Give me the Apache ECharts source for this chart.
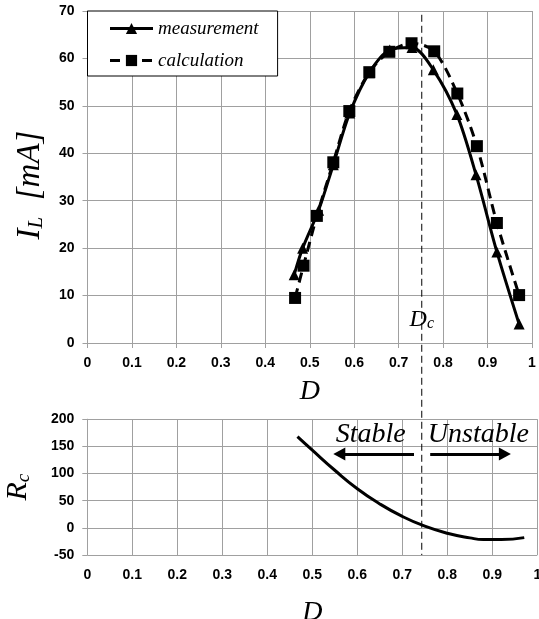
<!DOCTYPE html>
<html>
<head>
<meta charset="utf-8">
<script src="https://cdn.jsdelivr.net/npm/echarts@6/dist/echarts.min.js"></script>
<style>
html,body{margin:0;padding:0;background:#fff;}
#c{width:539px;height:619px;}
</style>
</head>
<body>
<div id="c"></div>
<script>
// ---- data ----
const D_meas = [0.465, 0.484, 0.520, 0.553, 0.590, 0.634, 0.680, 0.730, 0.778, 0.831, 0.874, 0.921, 0.971];
const I_meas = [14.4, 20.0, 28.0, 37.6, 48.5, 57.0, 61.8, 62.3, 57.6, 48.2, 35.5, 19.2, 4.0];
const D_calc = [0.467, 0.486, 0.516, 0.553, 0.589, 0.634, 0.679, 0.729, 0.780, 0.832, 0.876, 0.921, 0.971];
const I_calc = [9.5, 16.3, 26.8, 38.1, 48.9, 57.1, 61.4, 63.2, 61.5, 52.6, 41.5, 25.3, 10.1];
const D_rc = [0.467, 0.50, 0.55, 0.60, 0.65, 0.70, 0.75, 0.80, 0.85, 0.88, 0.92, 0.971];
const R_rc = [168, 143, 106, 72, 44, 21, 3, -10, -18.5, -21.5, -21.5, -18];
const Dc = 0.752;
const seriesNames = ['measurement', 'calculation'];
const xTicks = {min: 0, max: 1, interval: 0.1};
const yTopTicks = {min: 0, max: 70, interval: 10};
const yBotTicks = {min: -50, max: 200, interval: 50};
const stableArrow = [[0.726, 136], [0.560, 136]];
const unstableArrow = [[0.762, 136], [0.928, 136]];
const stableLabelPos = [0.630, 171];
const unstableLabelPos = [0.869, 171];

const pair = (xs, ys) => xs.map((x, i) => [x, ys[i]]);

const gridColor = '#a0a0a0';
const tickFont = {color: '#000', fontFamily: 'Liberation Sans', fontWeight: 'bold', fontSize: 14};
const serif = 'Liberation Serif';
const richTop = {
  a: {fontFamily: serif, fontStyle: 'italic', fontSize: 33, color: '#000'},
  b: {fontFamily: serif, fontStyle: 'italic', fontSize: 21, color: '#000', padding: [12, 0, 0, 0]}
};
const richBot = {
  a: {fontFamily: serif, fontStyle: 'italic', fontSize: 30, color: '#000'},
  b: {fontFamily: serif, fontStyle: 'italic', fontSize: 19, color: '#000', padding: [11, 0, 0, 0]}
};

function xAxis(gridIndex, gap) {
  return {
    type: 'value', gridIndex, min: xTicks.min, max: xTicks.max, interval: xTicks.interval,
    name: 'D', nameLocation: 'middle', nameGap: gap,
    nameTextStyle: {fontFamily: serif, fontStyle: 'italic', fontSize: 28, color: '#000'},
    axisLine: {show: true, lineStyle: {color: gridColor, width: 1}},
    axisTick: {show: true, length: 5, lineStyle: {color: gridColor}},
    axisLabel: Object.assign({margin: 13}, tickFont),
    splitLine: {show: true, lineStyle: {color: gridColor, width: 1}}
  };
}
function yAxis(gridIndex, t, name, gap, rich, pad) {
  return {
    type: 'value', gridIndex, min: t.min, max: t.max, interval: t.interval,
    name, nameLocation: 'middle', nameGap: gap, nameRotate: 90,
    nameTextStyle: {rich, padding: pad},
    axisLine: {show: true, lineStyle: {color: gridColor, width: 1}},
    axisTick: {show: true, length: 5, lineStyle: {color: gridColor}},
    axisLabel: Object.assign({margin: 13}, tickFont),
    splitLine: {show: true, lineStyle: {color: gridColor, width: 1}}
  };
}

const arrowLine = (pts) => ([{coord: pts[0]}, {coord: pts[1]}]);
const textPoint = (pos, txt) => ({
  coord: pos, symbol: 'rect', symbolSize: 1, itemStyle: {color: 'rgba(0,0,0,0)'},
  label: {show: true, position: 'inside', formatter: txt, fontFamily: serif, fontStyle: 'italic', fontSize: 28, color: '#000'}
});

const chart = echarts.init(document.getElementById('c'), null, {renderer: 'canvas'});
const option = {
  animation: false,
  backgroundColor: '#fff',
  grid: [
    {left: 87.5, top: 11, width: 444.5, height: 332, containLabel: false, outerBoundsMode: 'none'},
    {left: 87.3, top: 419.2, width: 450, height: 135.8, containLabel: false, outerBoundsMode: 'none'}
  ],
  xAxis: [xAxis(0, 35), xAxis(1, 44)],
  yAxis: [
    yAxis(0, yTopTicks, '{a|I}{b|L}{a|  [mA]}', 41, richTop, [0, 16, 0, 0]),
    yAxis(1, yBotTicks, '{a|R}{b|c}', 54, richBot, 0)
  ],
  legend: {
    data: seriesNames, orient: 'vertical', left: 87.5, top: 11,
    padding: [8, 19, 6, 21], itemWidth: 43, itemHeight: 14, itemGap: 13,
    borderColor: '#000', borderWidth: 1, backgroundColor: '#fff', borderRadius: 0,
    lineStyle: {width: 3},
    textStyle: {fontFamily: serif, fontStyle: 'italic', fontSize: 19, color: '#000'}
  },
  series: [
    {
      name: seriesNames[0], type: 'line', xAxisIndex: 0, yAxisIndex: 0,
      data: pair(D_meas, I_meas), smooth: 0.3,
      symbol: 'triangle', symbolSize: 11,
      lineStyle: {color: '#000', width: 3}, itemStyle: {color: '#000'},
      z: 3,
      markPoint: {
        silent: true, animation: false,
        data: [{
          coord: [Dc, 4.9], symbol: 'rect', symbolSize: 1, itemStyle: {color: 'rgba(0,0,0,0)'},
          label: {show: true, position: 'inside', formatter: '{a|D}{b|c}',
            rich: {
              a: {fontFamily: serif, fontStyle: 'italic', fontSize: 24, color: '#000'},
              b: {fontFamily: serif, fontStyle: 'italic', fontSize: 16, color: '#000', padding: [8, 0, 0, 0]}
            }}
        }]
      }
    },
    {
      name: seriesNames[1], type: 'line', xAxisIndex: 0, yAxisIndex: 0,
      data: pair(D_calc, I_calc), smooth: 0.3,
      symbol: 'rect', symbolSize: 12,
      lineStyle: {color: '#000', width: 3, type: [10, 6]}, itemStyle: {color: '#000'},
      z: 2
    },
    {
      name: 'Rc', type: 'line', xAxisIndex: 1, yAxisIndex: 1,
      data: pair(D_rc, R_rc), smooth: true, symbol: 'none',
      lineStyle: {color: '#000', width: 3},
      markLine: {
        silent: true, animation: false,
        symbol: ['none', 'triangle'], symbolSize: [13, 12],
        lineStyle: {color: '#000', width: 3, type: 'solid'},
        label: {show: false},
        data: [arrowLine(stableArrow), arrowLine(unstableArrow)]
      },
      markPoint: {
        silent: true, animation: false,
        data: [textPoint(stableLabelPos, 'Stable'), textPoint(unstableLabelPos, 'Unstable')]
      }
    }
  ]
};
chart.setOption(option);

const pTop = chart.convertToPixel({gridIndex: 0}, [Dc, 69.2]);
const pBot = chart.convertToPixel({gridIndex: 1}, [xTicks.min, yBotTicks.min]);
chart.setOption({
  graphic: [{
    type: 'line', silent: true, z: 10,
    shape: {x1: pTop[0], y1: pTop[1], x2: pTop[0], y2: pBot[1]},
    style: {stroke: '#000', lineWidth: 1, lineDash: [7, 4]}
  }]
});
</script>
</body>
</html>
